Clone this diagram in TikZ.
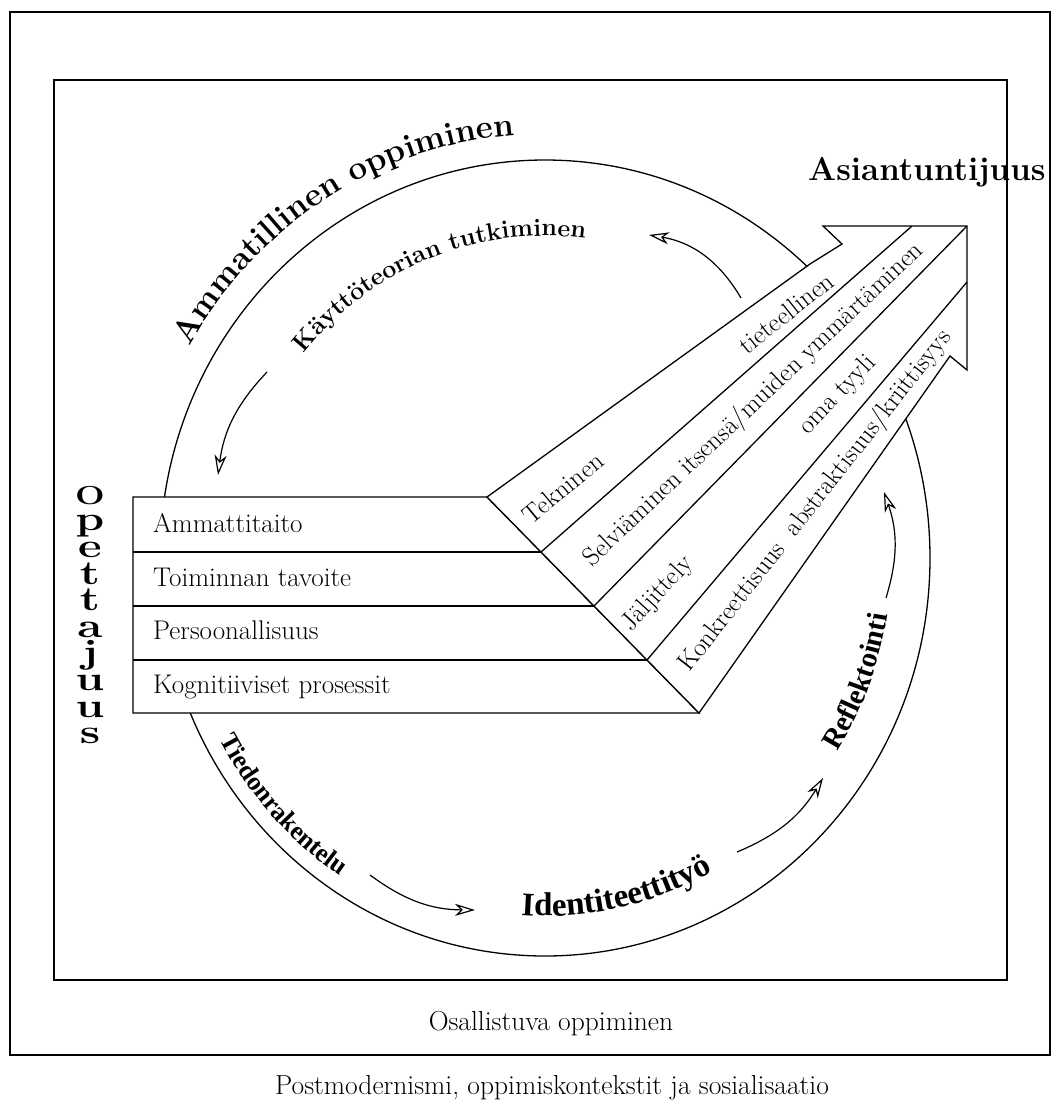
\documentclass[tikz,border=0pt]{standalone}
\usepackage{fontspec}
\newfontfamily\libserif{Liberation Serif}
\usetikzlibrary{decorations.text,arrows.meta,calc}
\newcommand\ammfont{\fontsize{33}{36}\selectfont\bfseries}
\newcommand\kayfont{\fontsize{25}{28}\selectfont\bfseries}
\newcommand\tiefont{\libserif\fontsize{26}{28}\selectfont\bfseries}
\newcommand\idefont{\libserif\fontsize{33}{36}\selectfont\bfseries}
\newcommand\reffont{\libserif\fontsize{29}{32}\selectfont\bfseries}
\newcommand\opetfont{\bfseries\fontsize{34}{26.6}\selectfont}
\begin{document}
\begin{tikzpicture}[x=1pt,y=1pt,line join=miter,
  frame/.style={line width=1.4pt},
  box/.style={line width=1.3pt},
  cyc/.style={line width=1.2pt,-{Stealth[open,length=20pt,width=12pt,inset=6pt]},bend right=18},
  rowtext/.style={anchor=base west,font=\fontsize{27}{30}\selectfont,inner sep=0pt},
  bandtext/.style={font=\fontsize{26}{28}\selectfont,inner sep=0pt},
  bottomtext/.style={anchor=base,font=\fontsize{27.5}{30}\selectfont,inner sep=0pt},
  curvetext/.style={decorate,decoration={text along path,text align=center,text={#1}}}
]
\useasboundingbox (0,0) rectangle (1056,-1101);

% frames
\draw[frame] (10,-12) rectangle (1050,-1055);
\draw[frame] (54,-80) rectangle (1007,-980);

% big cycle
\coordinate (C) at (545,-558);
\draw[line width=1.3pt] (C) ellipse[x radius=385pt,y radius=398pt];

% table
\draw[box,fill=white] (133,-497) -- (487,-497) -- (699,-713) -- (133,-713) -- cycle;
\draw[box] (133,-552) -- (541,-552) (133,-606) -- (594,-606) (133,-660) -- (647,-660);

% big arrow
\draw[box,fill=white] (487,-497) -- (810,-264) -- (842,-244) -- (823,-226) -- (967,-226)
  -- (967,-370) -- (950,-356) -- (699,-713) -- cycle;
\draw[box] (541,-552) -- (912,-226) (594,-606) -- (967,-226) (647,-660) -- (967,-282);

% table texts
\node[rowtext] (r1) at (153,-532) {Ammattitaito};
\node[rowtext] (r2) at (153,-586) {Toiminnan tavoite};
\node[rowtext] (r3) at (153,-639) {Persoonallisuus};
\node[rowtext] (r4) at (153,-693) {Kognitiiviset prosessit};

% band texts
\node[bandtext,rotate=39.6] (b1a) at (563,-488) {Tekninen};
\node[bandtext,rotate=38.4] (b1b) at (786,-313) {tieteellinen};
\node[bandtext,rotate=43.5] (b2) at (754,-405) {Selviäminen itsensä/muiden ymmärtäminen};
\node[bandtext,rotate=47.5] (b3a) at (658,-594) {Jäljittely};
\node[bandtext,rotate=46.5] (b3b) at (838,-395) {oma tyyli};
\node[bandtext,rotate=52] (b4) at (816,-501) {Konkreettisuus\ \ abstraktisuus/kriittisyys};

% headings
\node[anchor=base west,font=\ammfont,inner sep=0pt] (asi) at (808,-180) {Asiantuntijuus};
\node[anchor=north,align=center,inner sep=0pt,xscale=1.35,font=\opetfont] (opet) at (90,-486)
  {{\fontsize{26}{26.6}\selectfont O}\\p\\e\\t\\t\\a\\j\\u\\u\\s};

% curved labels
\path[curvetext={|\ammfont|Ammatillinen oppiminen}]
  ($(C)+(160:410pt and 424pt)$) arc[start angle=160,end angle=84,x radius=410pt,y radius=424pt];
\path[curvetext={|\kayfont|Käyttöteorian tutkiminen}]
  ($(C)+(150:312pt and 322pt)$) arc[start angle=150,end angle=73,x radius=312pt,y radius=322pt];
\path[curvetext={|\tiefont|Tiedonrakentelu}]
  ($(C)+(195:370pt and 382pt)$) arc[start angle=195,end angle=250,x radius=370pt,y radius=382pt];
\path[curvetext={|\idefont|Identiteettityö}]
  ($(C)+(260:347pt and 358pt)$) arc[start angle=260,end angle=305,x radius=347pt,y radius=358pt];
\path[curvetext={|\reffont|Reflektointi}]
  ($(C)+(318:347pt and 358pt)$) arc[start angle=318,end angle=360,x radius=347pt,y radius=358pt];

% cycle arrows
\coordinate (trs) at (741,-298); \coordinate (tre) at (649,-235);
\coordinate (tls) at (267,-372); \coordinate (tle) at (218,-475);
\coordinate (bls) at (370,-875); \coordinate (ble) at (475,-910);
\coordinate (brs) at (737,-852); \coordinate (bre) at (823,-778);
\coordinate (rs) at (886,-598);  \coordinate (re) at (884,-492);
\draw[cyc,bend right=25] (trs) to (tre);
\draw[cyc] (tls) to (tle);
\draw[cyc] (bls) to (ble);
\draw[cyc] (brs) to (bre);
\draw[cyc] (rs) to (re);

% bottom texts
\node[bottomtext] (osal) at (551,-1030) {Osallistuva oppiminen};
\node[bottomtext] (post) at (552,-1094) {Postmodernismi, oppimiskontekstit ja sosialisaatio};
\end{tikzpicture}
\end{document}
